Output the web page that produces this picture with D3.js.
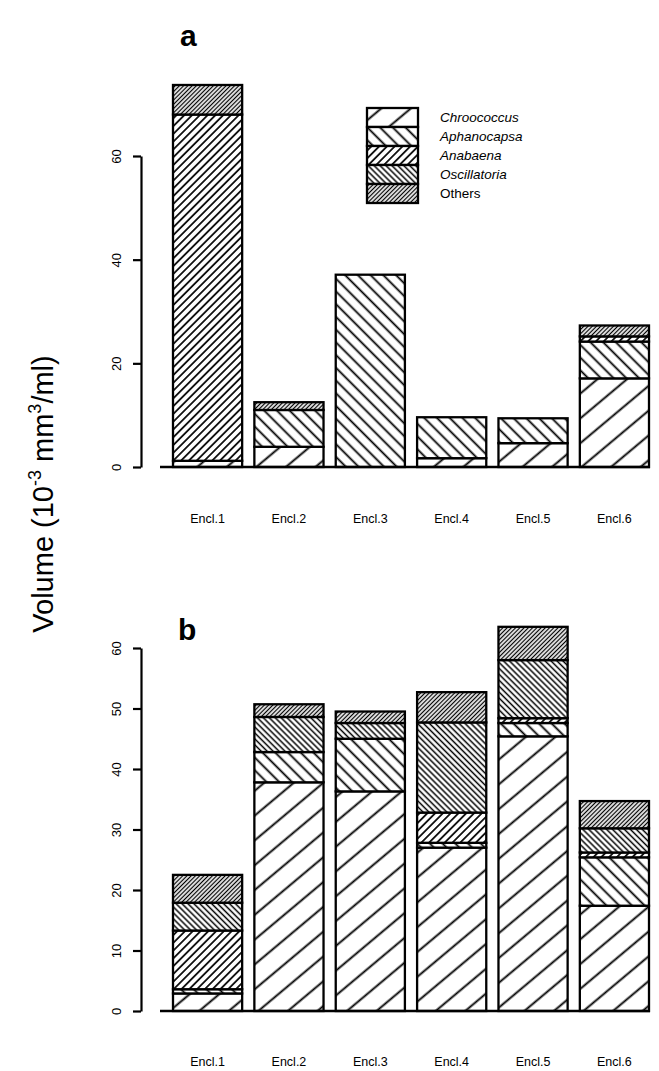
<!DOCTYPE html>
<html>
<head>
<meta charset="UTF-8">
<script src="https://cdn.jsdelivr.net/npm/d3@7"></script>
<style>
  body { margin: 0; background: #fff; }
  svg { font-family: "Liberation Sans", Arial, sans-serif; }
</style>
</head>
<body>
<svg id="chart" width="659" height="1071"></svg>
<script>
// enclosures and taxa
const enclosures = ["Encl.1", "Encl.2", "Encl.3", "Encl.4", "Encl.5", "Encl.6"];
const taxa = ["Chroococcus", "Aphanocapsa", "Anabaena", "Oscillatoria", "Others"];

// panel a (volume, 10^-3 mm3/ml)
const chrooA = [1.2, 3.9, 0, 1.7, 4.6, 17.1];
const aphaA  = [0, 7.1, 37.1, 7.9, 4.8, 7.1];
const anabA  = [66.8, 0, 0, 0, 0, 1.0];
const oscA   = [0, 0, 0, 0, 0, 0];
const othA   = [5.7, 1.5, 0, 0, 0, 2.1];

// panel b
const chrooB = [2.9, 37.8, 36.3, 27.0, 45.4, 17.4];
const aphaB  = [0.7, 5.0, 8.7, 0.8, 2.2, 8.0];
const anabB  = [9.7, 0, 0, 5.0, 0.8, 0.8];
const oscB   = [4.6, 5.8, 2.6, 14.9, 9.6, 4.0];
const othB   = [4.6, 2.1, 1.9, 5.0, 5.5, 4.5];

const ticksA = [0, 20, 40, 60];
const ticksB = [0, 10, 20, 30, 40, 50, 60];

const svg = d3.select("#chart");
const defs = svg.append("defs");

// hatch fills, one per taxon
const hatches = [
  {rot: 50, gap: 19, sw: 1.9},
  {rot: -45, gap: 9, sw: 1.8},
  {rot: 45, gap: 5.5, sw: 1.7},
  {rot: -45, gap: 4.2, sw: 1.5},
  {rot: 45, gap: 3, sw: 1.3}
];
hatches.forEach((h, i) => {
  const p = defs.append("pattern")
      .attr("id", "hatch" + i)
      .attr("patternUnits", "userSpaceOnUse")
      .attr("width", h.gap)
      .attr("height", h.gap)
      .attr("patternTransform", "rotate(" + h.rot + ")");
  p.append("rect").attr("width", h.gap).attr("height", h.gap).attr("fill", "#fff");
  p.append("line")
      .attr("x1", h.gap / 2).attr("x2", h.gap / 2)
      .attr("y1", 0).attr("y2", h.gap)
      .attr("stroke", "#000")
      .attr("stroke-width", h.sw);
});

const x = d3.scaleBand().domain(enclosures).range([173, 649]).paddingInner(0.15).paddingOuter(0);

function makeRows(cols) {
  return enclosures.map((e, i) => {
    const r = {encl: e};
    taxa.forEach((t, k) => r[t] = cols[k][i]);
    return r;
  });
}

function drawPanel(cols, ticks, y0, y60, labelY, letter, letterX, letterY) {
  const y = d3.scaleLinear().domain([0, 60]).range([y0, y60]);
  const g = svg.append("g");
  const stacked = d3.stack().keys(taxa)(makeRows(cols));

  stacked.forEach((layer, k) => {
    g.append("g").selectAll("rect")
        .data(layer.filter(d => d[1] - d[0] > 0))
        .join("rect")
        .attr("x", d => x(d.data.encl))
        .attr("width", x.bandwidth())
        .attr("y", d => y(d[1]))
        .attr("height", d => y(d[0]) - y(d[1]))
        .attr("fill", "url(#hatch" + k + ")")
        .attr("stroke", "#000")
        .attr("stroke-width", 2.3);
  });

  // baseline
  g.append("line")
      .attr("x1", 160).attr("x2", 650)
      .attr("y1", y(0)).attr("y2", y(0))
      .attr("stroke", "#000").attr("stroke-width", 2.5);

  // y axis
  const ax = g.append("g").attr("transform", "translate(141,0)")
      .call(d3.axisLeft(y).tickValues(ticks).tickSize(8).tickSizeOuter(0).tickFormat(d3.format("d")));
  ax.select(".domain").attr("stroke-width", 2.2);
  ax.selectAll(".tick line").attr("stroke-width", 2.2);
  ax.selectAll(".tick text")
      .attr("font-size", 13)
      .attr("x", null).attr("dy", null)
      .attr("text-anchor", "middle")
      .attr("transform", "translate(-25,0) rotate(-90)")
      .attr("dy", "0.35em");

  // category labels
  g.append("g").selectAll("text")
      .data(enclosures)
      .join("text")
      .attr("x", d => x(d) + x.bandwidth() / 2)
      .attr("y", labelY)
      .attr("text-anchor", "middle")
      .attr("font-size", 12.5)
      .text(d => d);

  g.append("text")
      .attr("x", letterX).attr("y", letterY)
      .attr("font-size", 30).attr("font-weight", "bold")
      .text(letter);
}

drawPanel([chrooA, aphaA, anabA, oscA, othA], ticksA, 467, 156, 523, "a", 180, 46);
drawPanel([chrooB, aphaB, anabB, oscB, othB], ticksB, 1011, 648, 1066, "b", 178, 640);

// legend
const leg = svg.append("g").attr("transform", "translate(367,108)");
taxa.forEach((t, i) => {
  leg.append("rect")
      .attr("x", 0).attr("y", i * 19)
      .attr("width", 51).attr("height", 19)
      .attr("fill", "url(#hatch" + i + ")")
      .attr("stroke", "#000").attr("stroke-width", 2.3);
  leg.append("text")
      .attr("x", 73).attr("y", i * 19 + 14)
      .attr("font-size", 13.5)
      .attr("font-style", t === "Others" ? "normal" : "italic")
      .text(t);
});

// y title
const title = svg.append("text")
    .attr("transform", "translate(53,494) rotate(-90)")
    .attr("text-anchor", "middle")
    .attr("font-size", 29);
title.append("tspan").text("Volume (10");
title.append("tspan").attr("font-size", 18).attr("dy", -12).text("-3");
title.append("tspan").attr("dy", 12).text(" mm");
title.append("tspan").attr("font-size", 18).attr("dy", -12).text("3");
title.append("tspan").attr("dy", 12).text("/ml)");
</script>
</body>
</html>
